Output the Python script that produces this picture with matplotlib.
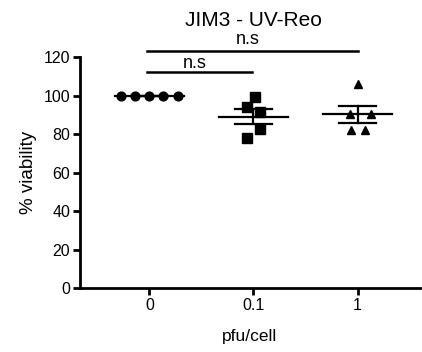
import matplotlib.pyplot as plt
import numpy as np

plt.rcParams['font.family'] = ['Liberation Sans', 'DejaVu Sans']

# pfu/cell groups and % viability per replicate
groups = ["0", "0.1", "1"]
mock = [100, 100, 100, 100, 100]
dose_01 = [99.1, 94.2, 91.6, 82.6, 77.8]
dose_1 = [106.3, 90.4, 90.4, 82.1, 82.1]

# horizontal jitter of the points (in group units)
jitter_0 = [-0.275, -0.137, 0.0, 0.135, 0.27]
jitter_01 = [0.01, -0.063, 0.058, 0.058, -0.063]
jitter_1 = [0.0, -0.07, 0.132, -0.065, 0.07]

series = [mock, dose_01, dose_1]
jitters = [jitter_0, jitter_01, jitter_1]
markers = ["o", "s", "^"]
msizes = [6.3, 6.5, 5.8]

fig = plt.figure(figsize=(4.22, 3.52), dpi=100)
ax = fig.add_axes([80 / 422, 1 - 288 / 352, 340 / 422, (288 - 57.3) / 352])

for i, vals in enumerate(series):
    vals = np.array(vals)
    mean = vals.mean()
    sem = vals.std(ddof=1) / np.sqrt(len(vals))
    ax.plot([i - 0.335, i + 0.335], [mean, mean], color="black", lw=1.6, zorder=2)
    ax.plot([i, i], [mean - sem, mean + sem], color="black", lw=1.6, zorder=2)
    for y in (mean - sem, mean + sem):
        ax.plot([i - 0.175, i + 0.175], [y, y], color="black", lw=1.6, zorder=2)
    ax.plot(i + np.array(jitters[i]), vals, linestyle="none", marker=markers[i],
            ms=msizes[i], color="black", zorder=3)

# significance brackets
ax.plot([-0.02, 2.0], [123.3, 123.3], color="black", lw=1.8, clip_on=False)
ax.plot([-0.02, 0.99], [112.1, 112.1], color="black", lw=1.8, clip_on=False)
ax.text(0.94, 129.3, "n.s", ha="center", va="center", fontsize=13, clip_on=False)
ax.text(0.44, 117.0, "n.s", ha="center", va="center", fontsize=13, clip_on=False)

ax.set_xlim(-0.667, 2.6)
ax.set_ylim(0, 120)
ax.set_xticks(range(len(groups)))
ax.set_xticklabels(groups)
ax.set_yticks([0, 20, 40, 60, 80, 100, 120])

for s in ["top", "right"]:
    ax.spines[s].set_visible(False)
for s in ["left", "bottom"]:
    ax.spines[s].set_linewidth(2.0)
ax.tick_params(width=2.0, length=5, labelsize=11.5, pad=2)

ax.set_xlabel("pfu/cell", fontsize=12.5, labelpad=12)
ax.set_ylabel("% viability", fontsize=13.5, labelpad=5)
fig.text(253 / 422, 1 - 20 / 352, "JIM3 - UV-Reo", ha="center", va="center", fontsize=15)

fig.savefig("out.png", dpi=100)
